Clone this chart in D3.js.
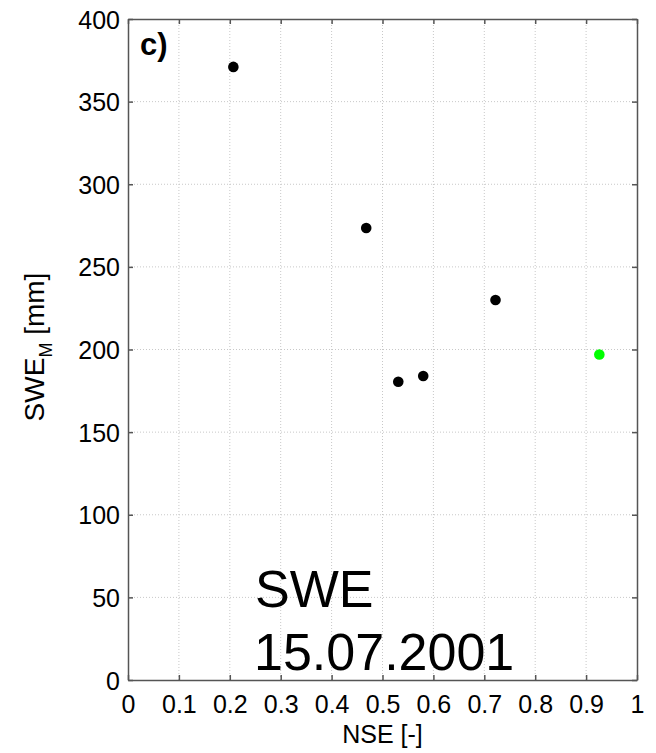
<!DOCTYPE html>
<html>
<head>
<meta charset="utf-8">
<script src="https://cdn.jsdelivr.net/npm/d3@7"></script>
<style>
body { margin: 0; background: #fff; }
text { font-family: "Liberation Sans", Arial, sans-serif; }
</style>
</head>
<body>
<svg id="chart" width="656" height="753"></svg>
<script>
// NSE vs modelled SWE
var nse = [0.207, 0.468, 0.531, 0.580, 0.722, 0.926];
var swe = [371, 273.5, 180.5, 184, 230, 197];
var dotColor = ['#000000', '#000000', '#000000', '#000000', '#000000', '#00ff00'];
var xTicks = [0, 0.1, 0.2, 0.3, 0.4, 0.5, 0.6, 0.7, 0.8, 0.9, 1];
var yTicks = [0, 50, 100, 150, 200, 250, 300, 350, 400];

var margin = {left: 128, top: 19, right: 19, bottom: 73};
var W = 656, H = 753;
var svg = d3.select("#chart");

var x = d3.scaleLinear().domain([0, 1]).range([margin.left, W - margin.right]);
var y = d3.scaleLinear().domain([0, 400]).range([H - margin.bottom, margin.top]);

//## grid
var grid = svg.append("g");
grid.selectAll(".gx").data(xTicks.slice(1, -1)).enter().append("line")
    .attr("x1", function(d) { return x(d); }).attr("x2", function(d) { return x(d); })
    .attr("y1", y(0)).attr("y2", y(400))
    .attr("stroke", "#c8c8c8").attr("stroke-dasharray", "1,2");
grid.selectAll(".gy").data(yTicks.slice(1, -1)).enter().append("line")
    .attr("y1", function(d) { return y(d); }).attr("y2", function(d) { return y(d); })
    .attr("x1", x(0)).attr("x2", x(1))
    .attr("stroke", "#c8c8c8").attr("stroke-dasharray", "1,2");

//## axes (MATLAB style, ticks inside)
var fmt = function(d) { return d3.format("")(d); };
var ax = svg.append("g").attr("transform", "translate(0," + y(0) + ")")
    .call(d3.axisBottom(x).tickValues(xTicks).tickFormat(fmt).tickSizeInner(-5).tickSizeOuter(0).tickPadding(15));
var ay = svg.append("g").attr("transform", "translate(" + x(0) + ",0)")
    .call(d3.axisLeft(y).tickValues(yTicks).tickFormat(fmt).tickSizeInner(-5).tickSizeOuter(0).tickPadding(8));
var axTop = svg.append("g").attr("transform", "translate(0," + y(400) + ")")
    .call(d3.axisTop(x).tickValues(xTicks).tickFormat("").tickSizeInner(-5).tickSizeOuter(0));
var ayRight = svg.append("g").attr("transform", "translate(" + x(1) + ",0)")
    .call(d3.axisRight(y).tickValues(yTicks).tickFormat("").tickSizeInner(-5).tickSizeOuter(0));

[ax, ay, axTop, ayRight].forEach(function(g) {
    g.selectAll("path").attr("stroke", "#555").attr("stroke-width", 1.5);
    g.selectAll("line").attr("stroke", "#555").attr("stroke-width", 1.5);
    g.selectAll("text").attr("fill", "#000").attr("font-size", 25)
        .attr("font-family", "'Liberation Sans', Arial, sans-serif");
});
ax.selectAll("text").attr("dy", "0.72em");
ay.selectAll("text").attr("dy", "0.36em");

//## points
svg.append("g").selectAll("circle").data(nse).enter().append("circle")
    .attr("cx", function(d) { return x(d); })
    .attr("cy", function(d, i) { return y(swe[i]); })
    .attr("r", 5.3)
    .attr("fill", function(d, i) { return dotColor[i]; });

//## labels
svg.append("text").attr("x", x(0.5)).attr("y", 743)
    .attr("text-anchor", "middle").attr("font-size", 25).text("NSE [-]");

var yl = svg.append("text")
    .attr("transform", "translate(44,347) rotate(-90)")
    .attr("text-anchor", "middle").attr("font-size", 28);
yl.append("tspan").text("SWE");
yl.append("tspan").attr("dy", 8).attr("font-size", 18).text("M");
yl.append("tspan").attr("dy", -8).text(" [mm]");

svg.append("text").attr("x", 140).attr("y", 55)
    .attr("font-size", 31).attr("font-weight", "bold").text("c)");

svg.append("text").attr("x", 255).attr("y", 607).attr("font-size", 52).text("SWE");
svg.append("text").attr("x", 254).attr("y", 670).attr("font-size", 52).text("15.07.2001");
</script>
</body>
</html>
